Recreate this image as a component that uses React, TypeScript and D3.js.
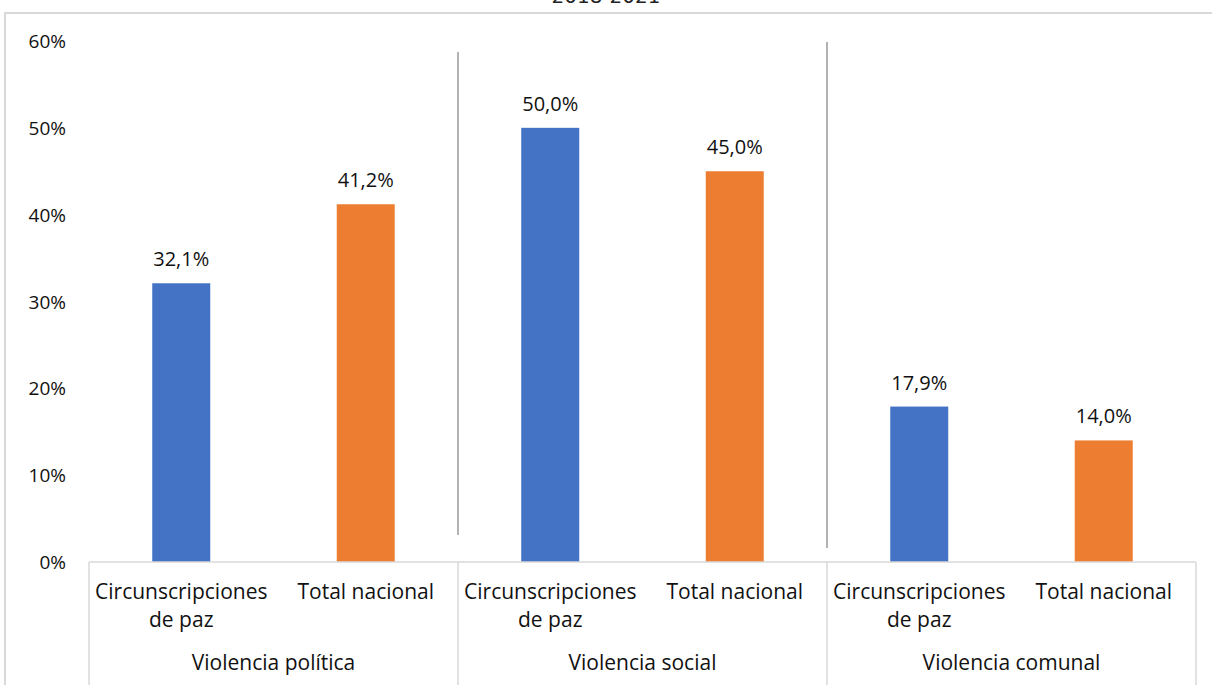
import * as d3 from 'd3';

const GROUPS = ['Violencia política', 'Violencia social', 'Violencia comunal'];
const SERIES = ['Circunscripciones de paz', 'Total nacional'];
const VALUES = [
  [32.1, 41.2],
  [50.0, 45.0],
  [17.9, 14.0],
];
const Y_TICKS = [0, 10, 20, 30, 40, 50, 60];
const COLORS = ['#4472C4', '#ED7D31'];
const TITLE = '2018-2021';

const W = 1212;
const H = 685;
const FONT = '"Open Sans", Lato, sans-serif';

export default function App() {
  const x0 = 89;
  const x1 = 1196;
  const yBase = 562;
  const yTop = 41;

  const gScale = d3.scaleBand<string>().domain(GROUPS).range([x0, x1]).padding(0);
  const sScale = d3.scaleBand<string>().domain(SERIES).range([0, gScale.bandwidth()]).padding(0);
  const y = d3.scaleLinear().domain([0, 60]).range([yBase, yTop]);
  const barW = 58;
  const fmt = (v: number) => v.toFixed(1).replace('.', ',') + '%';

  // hand-drawn separator lines between groups in the original
  const separators = [
    { g: 1, y1: 52, y2: 535 },
    { g: 2, y1: 42, y2: 548 },
  ];

  return (
    <svg width={W} height={H} style={{ position: 'absolute', left: 0, top: 0, fontFamily: FONT }}>
      <rect width={W} height={H} fill="white" />
      <text x={606} y={3} fontSize={20} textAnchor="middle" fill="#222" fontFamily="DejaVu Sans">{TITLE}</text>
      <rect x={5} y={13} width={W + 10} height={H} fill="none" stroke="#d9d9d9" strokeWidth={2} />

      {Y_TICKS.map(t => (
        <text key={t} x={66} y={y(t) + 7} fontSize={19} textAnchor="end" fill="#111">{t}%</text>
      ))}

      {separators.map(s => {
        const xs = gScale(GROUPS[s.g])!;
        return <line key={s.g} x1={xs} x2={xs} y1={s.y1} y2={s.y2} stroke="#7f7f7f" strokeWidth={1.2} />;
      })}

      {GROUPS.map((g, gi) => (
        <g key={g}>
          {SERIES.map((s, si) => {
            const cx = gScale(g)! + sScale(s)! + sScale.bandwidth() / 2;
            const v = VALUES[gi][si];
            return (
              <g key={s}>
                <rect x={cx - barW / 2} y={y(v)} width={barW} height={yBase - y(v)} fill={COLORS[si]} />
                <text x={cx} y={y(v) - 17} fontSize={20} textAnchor="middle" fill="#111">{fmt(v)}</text>
                {s === 'Circunscripciones de paz' ? (
                  <text x={cx} y={599} fontSize={21} textAnchor="middle" fill="#111">
                    <tspan x={cx}>Circunscripciones</tspan>
                    <tspan x={cx} dy={28}>de paz</tspan>
                  </text>
                ) : (
                  <text x={cx} y={599} fontSize={21} textAnchor="middle" fill="#111">{s}</text>
                )}
              </g>
            );
          })}
          <text x={gScale(g)! + gScale.bandwidth() / 2} y={670} fontSize={21} textAnchor="middle" fill="#111">{g}</text>
        </g>
      ))}

      <line x1={x0} x2={x1} y1={yBase} y2={yBase} stroke="#d9d9d9" strokeWidth={1.5} />
      {[...GROUPS.map(g => gScale(g)!), x1].map((xv, i) => (
        <line key={i} x1={xv} x2={xv} y1={yBase} y2={H} stroke="#d9d9d9" strokeWidth={1.5} />
      ))}
    </svg>
  );
}
